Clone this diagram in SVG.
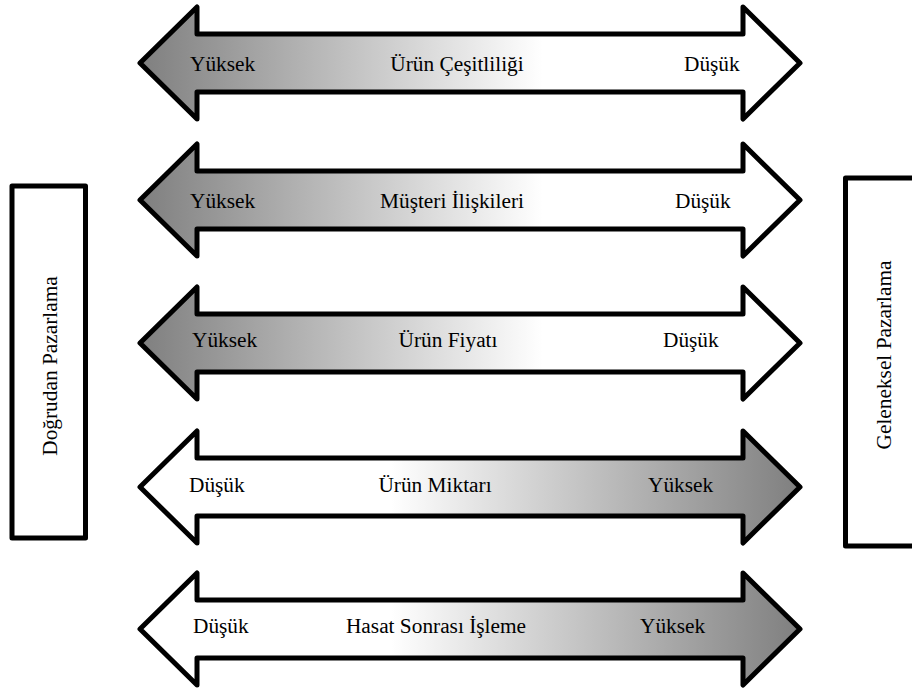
<svg xmlns="http://www.w3.org/2000/svg" width="912" height="693" viewBox="0 0 912 693">
<style>
.arrow{stroke:#000;stroke-width:5;stroke-linejoin:round}
.box{fill:#fff;stroke:#000;stroke-width:5;stroke-linejoin:round}
text{font-family:"Liberation Serif","Times New Roman",serif;font-size:21.33px;fill:#000}
.m{text-anchor:middle}
</style>
<defs>
<linearGradient id="gL" x1="0" y1="0" x2="1" y2="0">
<stop offset="0" stop-color="#7f7f7f"/>
<stop offset="0.61" stop-color="#ffffff"/>
<stop offset="1" stop-color="#ffffff"/>
</linearGradient>
<linearGradient id="gR" x1="0" y1="0" x2="1" y2="0">
<stop offset="0" stop-color="#ffffff"/>
<stop offset="0.38" stop-color="#ffffff"/>
<stop offset="1" stop-color="#7f7f7f"/>
</linearGradient>
</defs>
<rect width="912" height="693" fill="#fff"/>

<g id="box-dogrudan">
<rect class="box" x="12" y="186" width="73.5" height="352"/>
<text class="m" transform="translate(57,366) rotate(-90)">Doğrudan Pazarlama</text>
</g>
<g id="box-geleneksel">
<rect class="box" x="845.5" y="178" width="76" height="368"/>
<text class="m" transform="translate(891,355) rotate(-90)">Geleneksel Pazarlama</text>
</g>

<g id="arrow-cesitlilik">
<path class="arrow" fill="url(#gL)" d="M140 63 L197 7 L197 34 L743 34 L743 7 L800 63 L743 119 L743 92 L197 92 L197 119 Z"/>
<text x="190" y="71">Yüksek</text>
<text class="m" x="457" y="71">Ürün Çeşitliliği</text>
<text x="684" y="71">Düşük</text>
</g>
<g id="arrow-musteri">
<path class="arrow" fill="url(#gL)" d="M140 200 L197 144 L197 171 L743 171 L743 144 L800 200 L743 256 L743 229 L197 229 L197 256 Z"/>
<text x="190" y="208">Yüksek</text>
<text class="m" x="452" y="208">Müşteri İlişkileri</text>
<text x="675" y="208">Düşük</text>
</g>
<g id="arrow-fiyat">
<path class="arrow" fill="url(#gL)" d="M140 343 L197 287 L197 314 L743 314 L743 287 L800 343 L743 399 L743 372 L197 372 L197 399 Z"/>
<text x="192" y="347">Yüksek</text>
<text class="m" x="448" y="347">Ürün Fiyatı</text>
<text x="663" y="347">Düşük</text>
</g>
<g id="arrow-miktar">
<path class="arrow" fill="url(#gR)" d="M140 487 L197 431 L197 458 L743 458 L743 431 L800 487 L743 543 L743 516 L197 516 L197 543 Z"/>
<text x="189" y="492">Düşük</text>
<text class="m" x="435" y="492">Ürün Miktarı</text>
<text x="648" y="492">Yüksek</text>
</g>
<g id="arrow-hasat">
<path class="arrow" fill="url(#gR)" d="M140 629 L197 573 L197 600 L743 600 L743 573 L800 629 L743 685 L743 658 L197 658 L197 685 Z"/>
<text x="193" y="633">Düşük</text>
<text class="m" x="436" y="633">Hasat Sonrası İşleme</text>
<text x="640" y="633">Yüksek</text>
</g>
</svg>
